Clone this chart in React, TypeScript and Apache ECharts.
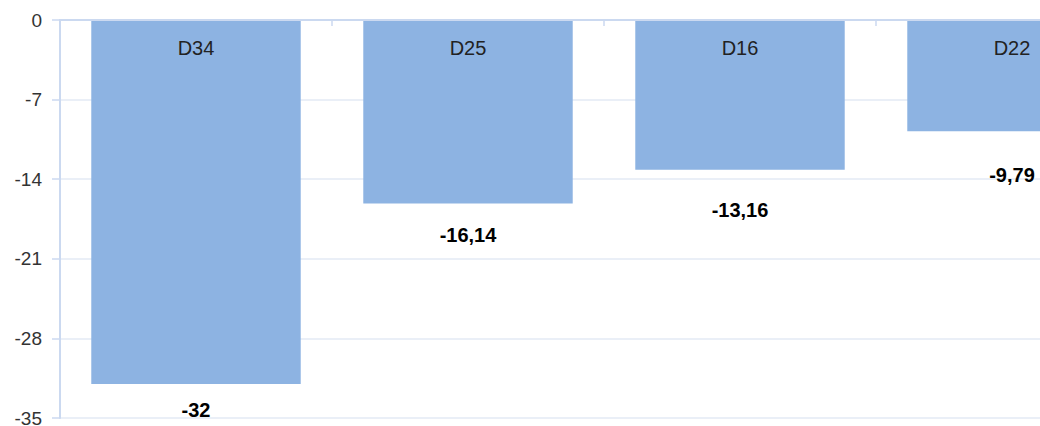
import React, { useEffect, useRef } from "react";
import * as echarts from "echarts";

const categories = ["D34", "D25", "D16", "D22"];
const values = [-32, -16.14, -13.16, -9.79];
const yMin = -35;
const yMax = 0;
const yInterval = 7;

// label distance below each bar end (style only)
const labelGaps = [16, 21, 30, 34];

const FONT = "'Liberation Sans', Arial, sans-serif";

export default function App() {
  const ref = useRef<HTMLDivElement>(null);
  useEffect(() => {
    if (!ref.current) return;
    const chart = echarts.init(ref.current, undefined, { renderer: "svg" });
    chart.setOption({
      animation: false,
      backgroundColor: "#ffffff",
      textStyle: { fontFamily: FONT },
      grid: {
        left: 60,
        right: 12,
        top: 20,
        bottom: 8,
        containLabel: false,
        outerBoundsMode: "none",
      },
      xAxis: {
        type: "category",
        data: categories,
        position: "top",
        z: 5,
        axisLine: { show: true, onZero: false, lineStyle: { color: "#cbd9f0", width: 2 } },
        axisTick: { show: true, inside: true, length: 6, lineStyle: { color: "#cbd9f0", width: 1.5 } },
        axisLabel: { inside: true, color: "#222", fontSize: 20, margin: 18, fontFamily: FONT },
        splitLine: { show: false },
      },
      yAxis: {
        type: "value",
        min: yMin,
        max: yMax,
        interval: yInterval,
        axisLine: { show: true, lineStyle: { color: "#cbd9f0", width: 2 } },
        axisTick: { show: true, length: 8, lineStyle: { color: "#cbd9f0", width: 1.5 } },
        axisLabel: { color: "#333", fontSize: 19, margin: 18, fontFamily: FONT },
        splitLine: { show: true, lineStyle: { color: "#e3eaf5", width: 1.5 } },
      },
      series: [
        {
          type: "bar",
          barCategoryGap: "23%",
          itemStyle: { color: "#8db3e2" },
          data: values.map((v, i) => ({
            value: v,
            label: { distance: labelGaps[i] },
          })),
          label: {
            show: true,
            position: "bottom",
            color: "#000",
            fontWeight: "bold",
            fontSize: 20,
            fontFamily: FONT,
            formatter: (p: any) => String(p.value).replace(".", ","),
          },
        },
      ],
    });
    return () => chart.dispose();
  }, []);
  return (
    <div
      style={{
        position: "fixed",
        left: 0,
        top: 0,
        width: 1040,
        height: 426,
        overflow: "hidden",
        background: "#fff",
      }}
    >
      <div ref={ref} style={{ width: 1160, height: 426 }} />
    </div>
  );
}
